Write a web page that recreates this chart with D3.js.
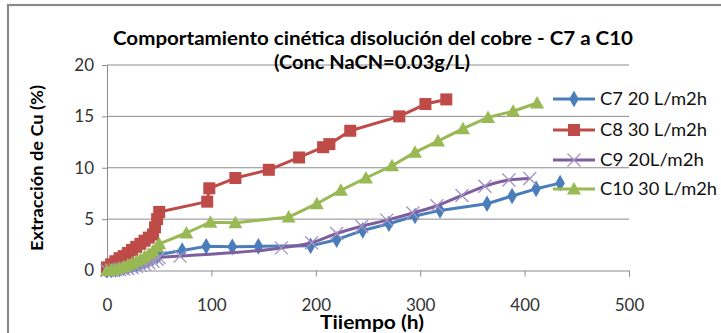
<!DOCTYPE html>
<html><head><meta charset="utf-8">
<script src="https://cdn.jsdelivr.net/npm/d3@7"></script>
<style>
body{margin:0;background:#fff;}
text{font-family:Lato,"Open Sans",sans-serif;}
</style></head>
<body><svg id="c" width="721" height="333"></svg>
<script>
const xTicks = [0,100,200,300,400,500];
const yTicks = [0,5,10,15,20];
const seriesNames = ["C7 20 L/m2h","C8 30 L/m2h","C9 20L/m2h","C10 30 L/m2h"];

const c7Time = [0,4,8,12,16,20,24,28,32,36,40,44,48,50,72,95,120,145,195,220,245,270,295,319,364,388,411,434];
const c7Val  = [0,0.05,0.1,0.15,0.25,0.35,0.45,0.55,0.7,0.85,1.0,1.2,1.4,1.55,1.95,2.35,2.3,2.35,2.4,3.0,3.9,4.55,5.3,5.85,6.5,7.25,7.95,8.5];

const c8Time = [0,4,8,12,16,20,24,28,32,36,40,44,46,48,50,96,98,123,155,184,207,213,233,280,305,325];
const c8Val  = [0.3,0.6,0.9,1.2,1.4,1.7,2.0,2.3,2.6,2.9,3.2,3.5,4.2,5.0,5.7,6.7,8.0,9.0,9.8,11.0,12.0,12.3,13.6,15.0,16.2,16.65];

const c9Time = [0,4,8,12,16,20,24,28,32,36,40,44,48,50,70,167,196,220,244,268,293,316,340,362,385,405];
const c9Val  = [0,0.03,0.06,0.1,0.15,0.2,0.3,0.4,0.5,0.6,0.75,0.9,1.1,1.25,1.4,2.2,2.7,3.6,4.3,4.9,5.6,6.3,7.3,8.2,8.8,8.95];

const c10Time = [0,4,8,12,16,20,24,28,32,36,40,44,48,50,76,99,123,174,201,224,248,273,295,317,341,365,389,412];
const c10Val  = [0,0.05,0.15,0.25,0.4,0.55,0.7,0.9,1.1,1.35,1.6,1.9,2.3,2.6,3.65,4.7,4.65,5.2,6.5,7.8,9.0,10.2,11.5,12.6,13.8,14.9,15.5,16.3];

const svg = d3.select("#c");
const x = d3.scaleLinear().domain([0,500]).range([107,629]);
const y = d3.scaleLinear().domain([0,20]).range([270.5,65]);

// chart border
svg.append("rect").attr("x",8).attr("y",5).attr("width",730).attr("height",340)
  .attr("fill","none").attr("stroke","#8a8a8a").attr("stroke-width",2.2);

// gridlines
svg.append("g").selectAll("line").data(yTicks.filter(d=>d>0)).join("line")
  .attr("x1",x(0)).attr("x2",x(500)).attr("y1",d=>y(d)).attr("y2",d=>y(d))
  .attr("stroke","#8c8c8c").attr("stroke-width",1);

// y axis
const ya = svg.append("g").attr("transform",`translate(${x(0)},0)`)
  .call(d3.axisLeft(y).tickValues(yTicks).tickSize(5).tickPadding(8));
ya.select(".domain").attr("stroke","#8c8c8c");
ya.selectAll(".tick line").attr("stroke","#8c8c8c");
ya.selectAll("text").attr("font-size",17).attr("fill","#333").style("font-family","Lato,sans-serif");

// x axis
const xa = svg.append("g").attr("transform",`translate(0,${y(0)})`)
  .call(d3.axisBottom(x).tickValues(xTicks).tickSize(6).tickPadding(22));
xa.select(".domain").attr("stroke","#8c8c8c");
xa.selectAll(".tick line").attr("stroke","#8c8c8c");
xa.selectAll("text").attr("font-size",17).attr("fill","#333").style("font-family","Lato,sans-serif");

// titles
svg.append("text").attr("x",373).attr("y",45).attr("text-anchor","middle")
  .attr("font-size",19).attr("font-weight","bold").attr("textLength",520).attr("lengthAdjust","spacingAndGlyphs")
  .text("Comportamiento cinética disolución del cobre - C7 a C10");
svg.append("text").attr("x",372).attr("y",69).attr("text-anchor","middle")
  .attr("font-size",19).attr("font-weight","bold").attr("textLength",196).attr("lengthAdjust","spacingAndGlyphs")
  .text("(Conc NaCN=0.03g/L)");
svg.append("text").attr("transform","translate(43,168) rotate(-90)").attr("text-anchor","middle")
  .attr("font-size",17).attr("font-weight","bold").attr("textLength",166).attr("lengthAdjust","spacingAndGlyphs")
  .text("Extracción de Cu (%)");
svg.append("text").attr("x",372).attr("y",329).attr("text-anchor","middle")
  .attr("font-size",18).attr("font-weight","bold").attr("textLength",104).attr("lengthAdjust","spacingAndGlyphs")
  .text("Tiiempo (h)");

const series = [
  {name:seriesNames[0], t:c7Time, v:c7Val, color:"#4a7ebb", marker:"diamond", curve:d3.curveLinear},
  {name:seriesNames[1], t:c8Time, v:c8Val, color:"#be4b48", marker:"square", curve:d3.curveLinear},
  {name:seriesNames[2], t:c9Time, v:c9Val, color:"#7d5fa0", marker:"x", curve:d3.curveMonotoneX},
  {name:seriesNames[3], t:c10Time, v:c10Val, color:"#98b954", marker:"triangle", curve:d3.curveLinear}
];

function drawMarker(g, type, color){
  if(type==="diamond") g.append("path").attr("d",d3.symbol(d3.symbolDiamond,80)()).attr("fill",color);
  else if(type==="square") g.append("rect").attr("x",-6).attr("y",-6).attr("width",12).attr("height",12).attr("fill",color);
  else if(type==="triangle") g.append("path").attr("d","M0,-7L7,5.5L-7,5.5Z").attr("fill",color);
  else if(type==="x"){
    g.append("path").attr("d","M-6.5,-6.5L6.5,6.5M-6.5,6.5L6.5,-6.5").attr("stroke","#a593c4").attr("stroke-width",1.3).attr("fill","none");
  }
}

series.forEach(s=>{
  const pts = s.t.map((t,i)=>[t,s.v[i]]);
  const line = d3.line().x(d=>x(d[0])).y(d=>y(d[1])).curve(s.curve);
  svg.append("path").datum(pts).attr("d",line).attr("fill","none")
    .attr("stroke",s.color).attr("stroke-width",3).attr("stroke-linejoin","round");
  const mg = svg.append("g");
  pts.forEach(p=>{
    const g = mg.append("g").attr("transform",`translate(${x(p[0])},${y(p[1])})`);
    drawMarker(g, s.marker, s.color);
  });
});

// legend
const legY = [99,130,160,189];
series.forEach((s,i)=>{
  const g = svg.append("g").attr("transform",`translate(0,${legY[i]})`);
  g.append("line").attr("x1",553).attr("x2",595).attr("y1",0).attr("y2",0).attr("stroke",s.color).attr("stroke-width",3);
  const m = g.append("g").attr("transform","translate(574,0)");
  drawMarker(m, s.marker, s.color);
  g.append("text").attr("x",600).attr("y",6).attr("font-size",17).attr("fill","#111")
    .attr("textLength", i===3?117:(i===2?104:107)).attr("lengthAdjust","spacingAndGlyphs").text(s.name);
});
</script></body></html>
